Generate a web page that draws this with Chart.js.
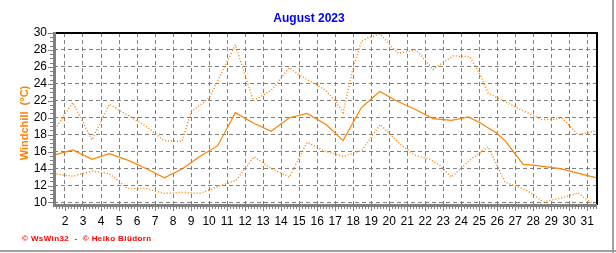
<!DOCTYPE html>
<html>
<head>
<meta charset="utf-8">
<script src="https://cdn.jsdelivr.net/npm/chart.js@4.4.1/dist/chart.umd.min.js"></script>
<style>
  html, body { margin: 0; padding: 0; background: #fff; }
  canvas { display: block; }
</style>
</head>
<body>
<canvas id="chart" width="616" height="253"></canvas>
<script>
// Windchill August 2023 (max / mean / min)
const maxDays = [1.37, 2.43, 3.5, 4.46, 5.4, 6.5, 7.5, 8.5, 9.0, 10.0, 11.46, 12.46, 13.44, 14.46, 15.04, 16.43, 17.0, 17.44, 18.0, 18.46, 18.8, 19.5, 20.04, 20.5, 21.5, 22.44, 23.0, 23.55, 24.48, 25.04, 25.5, 26.15, 27.07, 28.46, 29.1, 29.57, 30.5, 30.96, 31.54];
const maxValues = [18.4, 21.8, 17.4, 21.6, 20.4, 19.0, 17.3, 17.2, 20.7, 22.3, 28.6, 22.0, 23.2, 25.9, 25.0, 23.3, 22.0, 20.6, 25.9, 29.0, 29.4, 29.9, 28.6, 27.6, 28.0, 25.7, 26.5, 27.3, 27.2, 25.1, 22.9, 22.2, 21.2, 19.8, 19.8, 20.0, 18.0, 18.2, 18.5];

const meanDays = [1.37, 2.43, 3.5, 4.46, 5.48, 6.5, 7.52, 8.54, 9.46, 10.48, 11.46, 12.43, 13.44, 14.46, 15.44, 16.5, 17.44, 18.46, 19.48, 20.4, 21.43, 22.44, 23.46, 24.4, 25.04, 25.96, 26.43, 27.44, 28.0, 29.5, 30.4, 31.54];
const meanValues = [15.57, 16.2, 15.1, 15.76, 15.0, 14.0, 12.9, 14.0, 15.4, 16.7, 20.6, 19.4, 18.4, 20.0, 20.5, 19.2, 17.3, 21.2, 23.1, 22.0, 21.0, 19.9, 19.7, 20.1, 19.4, 18.2, 17.3, 14.5, 14.4, 14.0, 13.5, 12.9];

const minDays = [1.37, 2.43, 3.5, 4.46, 5.48, 6.5, 7.52, 8.54, 9.46, 10.48, 11.5, 12.5, 13.45, 14.46, 15.44, 16.5, 17.44, 18.46, 19.5, 20.6, 21.4, 22.26, 22.8, 23.46, 24.48, 25.5, 26.43, 27.63, 28.55, 29.5, 30.5, 31.54];
const minValues = [13.4, 13.1, 13.7, 13.4, 11.65, 11.65, 11.06, 11.2, 11.06, 11.85, 12.6, 15.4, 14.0, 13.0, 17.1, 16.0, 15.45, 16.1, 19.2, 16.9, 15.6, 15.1, 14.4, 13.0, 15.0, 16.55, 12.4, 11.45, 10.08, 10.5, 11.1, 9.5];

const dayTicks = [2, 3, 4, 5, 6, 7, 8, 9, 10, 11, 12, 13, 14, 15, 16, 17, 18, 19, 20, 21, 22, 23, 24, 25, 26, 27, 28, 29, 30, 31];
const tempTicks = [10, 12, 14, 16, 18, 20, 22, 24, 26, 28, 30];

const ORANGE = "#ff8000";
const GRAY = "#808080";
const FONT = "Arial, 'Liberation Sans', sans-serif";

const toPoints = (xs, ys) => xs.map((x, i) => ({ x: x, y: ys[i] }));

// frame, axis lines, small ticks and the extra texts
const decorations = {
    id: "decorations",
    beforeDraw(chart) {
        const c = chart.ctx;
        c.save();
        c.fillStyle = "#fff";
        c.fillRect(0, 0, chart.width, chart.height);
        c.restore();
    },
    afterDraw(chart) {
        const c = chart.ctx;
        const a = chart.chartArea;
        const xs = chart.scales.x;
        const ys = chart.scales.y;
        c.save();

        // top and right border
        c.fillStyle = "#000";
        c.fillRect(a.left, a.top - 1, a.right - a.left + 1, 2);
        c.fillRect(a.right - 1, a.top - 1, 2, a.bottom - a.top + 1);

        // left and bottom axis
        c.fillStyle = GRAY;
        c.fillRect(a.left - 1, a.top - 1, 3, a.bottom - a.top + 2);
        c.fillRect(a.left - 1, a.bottom - 1, a.right - a.left + 1, 3);

        // small ticks on x (every 4 hours)
        for (let d = Math.ceil(xs.min * 6) / 6; d <= xs.max; d += 1 / 6) {
            const px = Math.round(xs.getPixelForValue(d)) + 0.5;
            const major = Math.abs(d - Math.round(d)) < 0.01;
            c.fillRect(px - 0.5, a.bottom + 2, 1, major ? 4 : 2);
        }
        // small ticks on y
        for (let v = 10; v <= 30; v += 0.5) {
            const py = Math.round(ys.getPixelForValue(v));
            const major = v % 2 === 0;
            const len = major ? 5 : 3;
            c.fillRect(a.left - 1 - len, py, len, 1);
        }

        // title
        c.fillStyle = "#0000ff";
        c.font = "bold 12px " + FONT;
        c.textAlign = "center";
        c.textBaseline = "middle";
        c.fillText("August 2023", 309, 19);

        // y axis title
        c.save();
        c.translate(25, 123);
        c.rotate(-Math.PI / 2);
        c.fillStyle = ORANGE;
        c.font = "bold 11px " + FONT;
        c.fillText("Windchill  (°C)", 0, 0);
        c.restore();

        // footer
        c.fillStyle = "#ff0000";
        c.font = "bold 8px " + FONT;
        c.textAlign = "left";
        c.letterSpacing = "0.4px";
        c.fillText("© WsWin32  -  © Heiko Blüdorn", 22, 239);

        // window frame
        c.fillStyle = "#a0a0a0";
        c.fillRect(612, 0, 2, 253);
        c.fillRect(0, 250, 616, 2);
        c.restore();
    },
};

const ctx = document.getElementById("chart");

const chart = new Chart(ctx, {
    type: "line",
    data: {
        datasets: [
            {
                label: "Max",
                data: toPoints(maxDays, maxValues),
                borderColor: ORANGE,
                borderWidth: 1.5,
                borderDash: [1, 2],
                pointRadius: 0,
                tension: 0,
            },
            {
                label: "Mittel",
                data: toPoints(meanDays, meanValues),
                borderColor: ORANGE,
                borderWidth: 1.2,
                pointRadius: 0,
                tension: 0,
            },
            {
                label: "Min",
                data: toPoints(minDays, minValues),
                borderColor: ORANGE,
                borderWidth: 1.5,
                borderDash: [1, 2],
                pointRadius: 0,
                tension: 0,
            },
        ],
    },
    options: {
        responsive: false,
        animation: false,
        devicePixelRatio: 1,
        layout: {
            padding: { left: 0, top: 33, right: 19, bottom: 0 },
        },
        scales: {
            x: {
                type: "linear",
                min: 1.39,
                max: 31.54,
                afterBuildTicks: (scale) => {
                    scale.ticks = dayTicks.map((v) => ({ value: v }));
                },
                afterFit: (scale) => {
                    scale.height = 48;
                },
                ticks: {
                    color: "#000",
                    font: { family: FONT, size: 12 },
                    padding: 9,
                    maxRotation: 0,
                    autoSkip: false,
                    callback: (v) => String(v),
                },
                grid: {
                    color: GRAY,
                    lineWidth: 1,
                    drawTicks: false,
                },
                border: { display: false, dash: [4, 3] },
            },
            y: {
                min: 9.7,
                max: 30,
                afterBuildTicks: (scale) => {
                    scale.ticks = tempTicks.map((v) => ({ value: v }));
                },
                afterFit: (scale) => {
                    scale.width = 54;
                },
                ticks: {
                    color: "#000",
                    font: { family: FONT, size: 12 },
                    padding: 7,
                    autoSkip: false,
                    callback: (v) => String(v),
                },
                grid: {
                    color: GRAY,
                    lineWidth: 1,
                    drawTicks: false,
                },
                border: { display: false, dash: [4, 3] },
            },
        },
        plugins: {
            legend: { display: false },
            tooltip: { enabled: false },
            title: { display: false },
        },
    },
    plugins: [decorations],
});
</script>
</body>
</html>
